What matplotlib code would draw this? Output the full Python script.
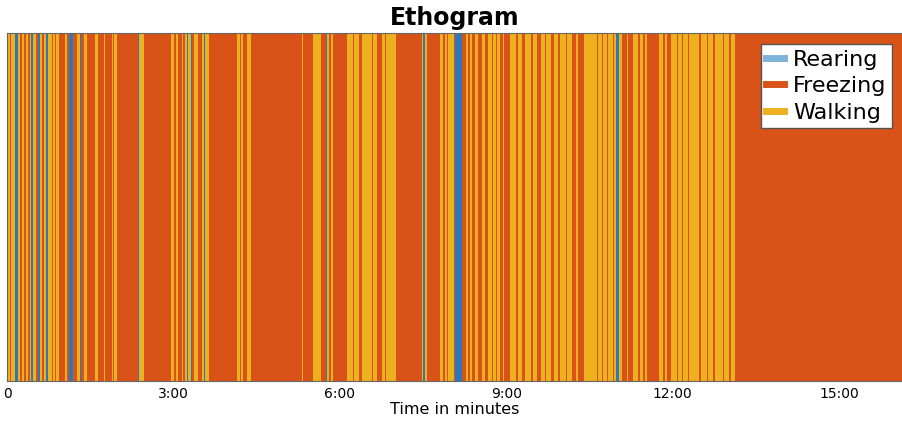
import matplotlib
matplotlib.use("Agg")
import matplotlib.pyplot as plt
from matplotlib.lines import Line2D

# bout onsets in seconds and behaviour code (R = rearing, F = freezing, W = walking)
bout_start = [0, 3, 4, 9, 12, 14, 16, 18, 21, 23, 25, 26, 28, 31, 34, 36, 38, 40, 42, 44,
              49, 50, 52, 53, 56, 63, 65, 67, 71, 76, 79, 80, 83, 87, 95, 98, 105, 106, 113, 115,
              116, 119, 142, 143, 148, 177, 181, 183, 185, 189, 190, 193, 195, 196, 199, 200, 202, 206, 211, 213,
              214, 218, 249, 252, 253, 255, 260, 264, 319, 320, 331, 340, 345, 346, 348, 350, 352, 368, 374, 375,
              381, 384, 395, 396, 400, 405, 409, 410, 421, 444, 445, 449, 450, 452, 454, 468, 472, 474, 476, 477,
              483, 485, 492, 496, 498, 501, 503, 506, 509, 514, 517, 520, 524, 526, 529, 530, 533, 536, 538, 544,
              550, 553, 557, 560, 567, 569, 573, 578, 582, 583, 588, 592, 596, 598, 605, 606, 611, 615, 617, 624,
              638, 639, 644, 645, 649, 650, 655, 656, 659, 662, 665, 671, 672, 677, 682, 685, 688, 690, 692, 705,
              709, 712, 714, 718, 725, 726, 730, 731, 737, 738, 748, 750, 757, 758, 764, 766, 774, 775, 781, 783,
              787]
bout_code = ("WFWRWFWFWFWRWFRWFWRW"
             "FWFWFWFRFWRFWFWFWFWF"
             "WFRWFWFWFWFWRWRFWFWR"
             "WFWFWFWFWFWFRWFWFWFW"
             "FWFWFWFWFWFWRWFWFWFW"
             "FRFWFWFWFWFWFWFWFWFW"
             "FWFWFWFWFWFWFWFWFWFW"
             "FWFWFWFWRWFWFWFWFWFW"
             "FWFWFWFWFWFWFWFWFWFW"
             "F")
session_end = 969

behaviours = ["Rearing", "Freezing", "Walking"]
codes = ["R", "F", "W"]
colors = ["#2a78bd", "#D95319", "#EDB120"]
legend_colors = ["#80b3d9", "#D95319", "#EDB120"]

tick_secs = [0, 180, 360, 540, 720, 900]
tick_labels = ["0", "3:00", "6:00", "9:00", "12:00", "15:00"]

fig = plt.figure(figsize=(9.03, 4.22), dpi=100)
ax = fig.add_axes([0.0078, 0.097, 0.9922, 0.825])

bout_end = bout_start[1:] + [session_end]
for code, col in zip(codes, colors):
    spans = [(s, e - s) for s, e, c in zip(bout_start, bout_end, bout_code) if c == code]
    ax.broken_barh(spans, (0, 1), facecolors=col, edgecolor="none")

ax.set_xlim(0, session_end)
ax.set_ylim(0, 1)
ax.set_yticks([])
ax.set_xticks(tick_secs)
ax.set_xticklabels(tick_labels, fontsize=10)
ax.tick_params(axis="x", length=0, pad=4)
ax.set_xlabel("Time in minutes", fontsize=11.5, labelpad=1)
ax.set_title("Ethogram", fontsize=17, fontweight="bold", pad=6)
for sp in ax.spines.values():
    sp.set_color("#666666")
    sp.set_linewidth(0.8)

handles = [Line2D([0], [0], color=c, lw=5) for c in legend_colors]
leg = ax.legend(handles, behaviours, loc="upper right", fontsize=16, handlelength=0.8,
                handletextpad=0.4, borderpad=0.25, labelspacing=0.3, borderaxespad=0.5,
                fancybox=False, framealpha=1, edgecolor="#555555")

fig.savefig("out.png", dpi=100)
